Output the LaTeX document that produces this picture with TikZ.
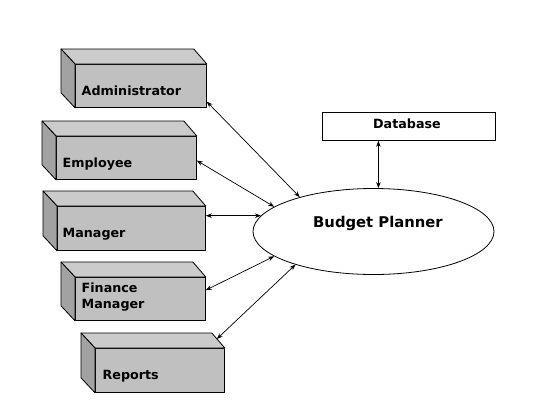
\documentclass[tikz,border=0pt]{standalone}
\usepackage{fontspec}
\setmainfont{DejaVu Sans}
\usetikzlibrary{arrows.meta,calc,shapes.geometric}
\definecolor{frontc}{HTML}{C0C0C0}
\definecolor{topc}{HTML}{CBCBCB}
\definecolor{sidec}{HTML}{A2A2A2}
\tikzset{
  face/.style={draw=black, line width=0.8pt, fill=frontc, inner sep=0pt, anchor=north west},
  topface/.style={draw=black, line width=0.8pt, fill=topc, line join=round},
  sideface/.style={draw=black, line width=0.8pt, fill=sidec, line join=round},
  lbl/.style={font=\bfseries\fontsize{12.7}{16}\selectfont, anchor=base west, inner sep=0pt, align=left},
  arr/.style={line width=0.7pt, {Stealth[length=6pt,width=4.5pt]}-{Stealth[length=6pt,width=4.5pt]}},
}
% \mycube{name}{x0}{y0}{x1}{y1}
\newcommand{\mycube}[5]{%
  \node[face, minimum width={(#4-#2)*1pt}, minimum height={(#5-#3)*1pt}] (#1) at (#2,#3) {};
  \path[topface] (#1.north west) -- ++(-14,-15) -- ($(#1.north east)+(-13,-15)$) -- (#1.north east) -- cycle;
  \path[sideface] (#1.north west) -- ++(-14,-15) -- ($(#1.south west)+(-14,-15)$) -- (#1.south west) -- cycle;
}
\begin{document}
\begin{tikzpicture}[x=1pt,y=-1pt]
\useasboundingbox[fill=white] (0,0) rectangle (551,405);

\mycube{admin}{75}{64}{206}{107}
\mycube{emp}{56}{136}{196}{179}
\mycube{man}{57}{206}{205}{250}
\mycube{fin}{75}{277}{205}{320}
\mycube{rep}{95}{348}{224}{392}

\node[lbl] (tadmin) at (81.5,95) {Administrator};
\node[lbl] (temp) at (62.5,167.3) {Employee};
\node[lbl] (tman) at (62.5,237.3) {Manager};
\node[lbl] (tfin) at (81.5,308.3) {Finance\\Manager};
\node[lbl] (trep) at (102.5,379.3) {Reports};

\node[draw=black, line width=0.8pt, fill=white, minimum width=173pt, minimum height=28pt, inner sep=0pt, anchor=north west] (db) at (322,112) {};
\node[lbl] (tdb) at (373,128.3) {Database};

\node[draw=black, line width=0.8pt, ellipse, minimum width=241pt, minimum height=86pt, inner sep=0pt] (bp) at (373.5,231.5) {};
\node[lbl, font=\bfseries\fontsize{14.8}{17}\selectfont] (tbp) at (313,227.3) {Budget Planner};

\draw[arr] ($(admin.north east)!0.86!(admin.south east)$) -- (bp.155);
\draw[arr] ($(emp.north east)!0.56!(emp.south east)$) -- (bp.166.4);
\draw[arr] (bp.172.5 -| man.east) -- (bp.172.5);
\draw[arr] ($(fin.north east)!0.3!(fin.south east)$) -- (bp.194.6);
\draw[arr] ($(rep.north east)+(-8,-9)$) -- (bp.203.5);
\draw[arr] ([xshift=-30.5pt]db.south) -- ([xshift=-30.5pt]db.south |- bp.north);
\end{tikzpicture}
\end{document}
